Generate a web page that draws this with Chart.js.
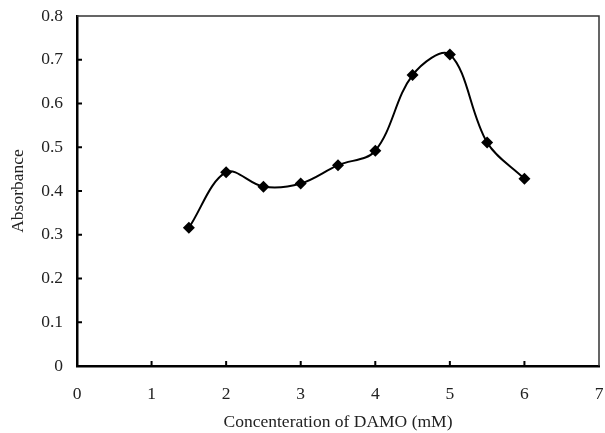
<!DOCTYPE html>
<html>
<head>
<meta charset="utf-8">
<script src="https://cdn.jsdelivr.net/npm/chart.js@4/dist/chart.umd.min.js"></script>
<style>
html,body{margin:0;padding:0;background:#fff;}
#wrap{width:605px;height:433px;position:relative;}
</style>
</head>
<body>
<div id="wrap"><canvas id="c" width="605" height="433"></canvas></div>
<script>
const concentration = [1.5, 2, 2.5, 3, 3.5, 4, 4.5, 5, 5.5, 6];
const absorbance = [0.316, 0.443, 0.410, 0.417, 0.459, 0.492, 0.665, 0.712, 0.511, 0.428];
const xTicks = [0, 1, 2, 3, 4, 5, 6, 7];
const yTicks = [0, 0.1, 0.2, 0.3, 0.4, 0.5, 0.6, 0.7, 0.8];
const xTitle = 'Concenteration of DAMO (mM)';
const yTitle = 'Absorbance';

const FONT = '"Liberation Serif", "Times New Roman", serif';

const innerTicks = {
  id: 'innerTicks',
  afterDatasetsDraw(chart) {
    const ctx = chart.ctx, a = chart.chartArea;
    const xs = chart.scales.x, ys = chart.scales.y;
    ctx.save();
    ctx.strokeStyle = '#333';
    ctx.lineWidth = 1.5;
    ctx.beginPath();
    ctx.moveTo(a.left, a.top); ctx.lineTo(a.right, a.top); ctx.lineTo(a.right, a.bottom);
    ctx.stroke();
    ctx.strokeStyle = '#000';
    ctx.lineWidth = 2;
    ctx.beginPath();
    xTicks.forEach(v => {
      const px = xs.getPixelForValue(v);
      if (v > xs.min && v < xs.max) { ctx.moveTo(px, a.bottom); ctx.lineTo(px, a.bottom - 5); }
    });
    yTicks.forEach(v => {
      const py = ys.getPixelForValue(v);
      if (v > ys.min && v < ys.max) { ctx.moveTo(a.left, py); ctx.lineTo(a.left + 5, py); }
    });
    ctx.stroke();
    ctx.restore();
  }
};

new Chart(document.getElementById('c'), {
  type: 'line',
  data: {
    datasets: [{
      data: concentration.map((x, i) => ({x: x, y: absorbance[i]})),
      borderColor: '#000',
      backgroundColor: '#000',
      borderWidth: 2,
      tension: 0.35,
      pointStyle: 'rectRot',
      pointRadius: 6,
      pointHoverRadius: 6,
      pointBackgroundColor: '#000',
      pointBorderColor: '#000',
      pointBorderWidth: 0,
      fill: false
    }]
  },
  options: {
    responsive: false,
    animation: false,
    devicePixelRatio: 1,
    layout: {padding: {left: 0, right: 4, top: 16, bottom: 0}},
    plugins: {legend: {display: false}, tooltip: {enabled: false}},
    scales: {
      x: {
        type: 'linear', min: 0, max: 7,
        afterBuildTicks: s => { s.ticks = xTicks.map(v => ({value: v})); },
        afterFit: s => { s.height = 67; s.paddingLeft = 0; s.paddingRight = 0; },
        grid: {display: false, drawTicks: false},
        border: {display: true, color: '#000', width: 2.5},
        ticks: {color: '#222', font: {family: FONT, size: 17.5}, padding: 18, maxRotation: 0},
        title: {display: true, text: xTitle, color: '#222', font: {family: FONT, size: 17.5}, padding: {top: 0, bottom: 0}}
      },
      y: {
        type: 'linear', min: 0, max: 0.8,
        afterBuildTicks: s => { s.ticks = yTicks.map(v => ({value: v})); },
        afterFit: s => { s.width = 77; s.paddingTop = 0; s.paddingBottom = 0; },
        grid: {display: false, drawTicks: false},
        border: {display: true, color: '#000', width: 2.5},
        ticks: {color: '#222', font: {family: FONT, size: 17.5}, padding: 14,
          callback: v => v === 0 ? '0' : v.toFixed(1)},
        title: {display: true, text: yTitle, color: '#222', font: {family: FONT, size: 17.5}, padding: {top: 8, bottom: 0}}
      }
    }
  },
  plugins: [innerTicks]
});
</script>
</body>
</html>
